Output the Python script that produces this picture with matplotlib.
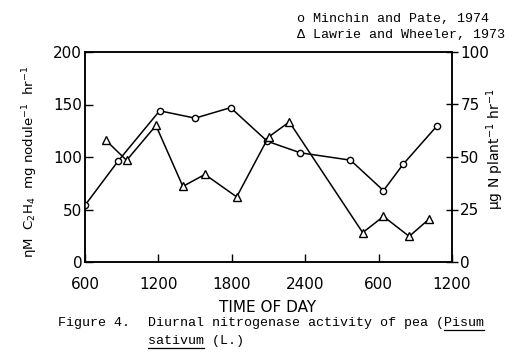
import matplotlib
matplotlib.use("Agg")
import matplotlib.pyplot as plt
from matplotlib.lines import Line2D

# Data (time in hours from 0600 on day 1)
minchin_hours = [6.0, 8.7, 12.1, 15.0, 17.9, 20.9, 23.6, 27.7, 30.4, 32.0, 34.8]
minchin_vals = [54, 96, 144, 137, 147, 115, 104, 97, 68, 93, 130]

lawrie_hours = [7.7, 9.4, 11.8, 14.0, 15.8, 18.4, 21.0, 22.7, 28.7, 30.4, 32.5, 34.1]
lawrie_vals = [58, 48.4, 65, 36, 41.7, 31, 59.5, 66.7, 14, 21.7, 12.2, 20.3]

x_ticks = [6, 12, 18, 24, 30, 36]
x_labels = ["600", "1200", "1800", "2400", "600", "1200"]
left_ticks = [0, 50, 100, 150, 200]
right_ticks = [0, 25, 50, 75, 100]

W, H = 527, 363
fig = plt.figure(figsize=(W / 100, H / 100), dpi=100)
ax = fig.add_axes([85 / W, 1 - 262 / H, (452 - 85) / W, (262 - 52) / H])
ax2 = ax.twinx()

sans = "DejaVu Sans"
mono = "Liberation Mono"
tfs = 11

ax.plot(minchin_hours, minchin_vals, color="black", lw=1.1, marker="o",
        ms=4.5, mfc="white", mec="black", mew=1.0, zorder=3)
ax2.plot(lawrie_hours, lawrie_vals, color="black", lw=1.1, marker="^",
         ms=6, mfc="white", mec="black", mew=1.0, zorder=3)

ax.set_xlim(6, 36)
ax.set_ylim(0, 200)
ax2.set_ylim(0, 100)

ax.set_xticks(x_ticks)
ax.set_xticklabels(x_labels, fontsize=tfs, family=sans)
ax.set_yticks(left_ticks)
ax.set_yticklabels([str(v) for v in left_ticks], fontsize=tfs, family=sans)
ax2.set_yticks(right_ticks)
ax2.set_yticklabels([str(v) for v in right_ticks], fontsize=tfs, family=sans)

ax.tick_params(axis="x", direction="in", length=6, width=1, pad=11)
ax.tick_params(axis="y", direction="in", length=6, width=1, pad=2)
ax2.tick_params(axis="y", direction="inout", length=8, width=1, pad=2)

for a in (ax, ax2):
    for s in a.spines.values():
        s.set_linewidth(1.1)

fig.text(268 / W, 1 - 308 / H, "TIME OF DAY", fontsize=tfs, family=sans,
         ha="center", va="center")
fig.text(30 / W, 1 - 162 / H, r"ηM  C$_2$H$_4$  mg nodule$^{-1}$  hr$^{-1}$",
         rotation=90, ha="center", va="center", fontsize=9.6, family=sans)
fig.text(495 / W, 1 - 149 / H, r"μg N plant$^{-1}$ hr$^{-1}$",
         rotation=90, ha="center", va="center", fontsize=10, family=sans)

# Legend text
fig.text(297 / W, 1 - 19 / H, "o Minchin and Pate, 1974", fontsize=9.6,
         family=mono, va="center", ha="left")
fig.text(297 / W, 1 - 35 / H, "Δ Lawrie and Wheeler, 1973", fontsize=9.6,
         family=mono, va="center", ha="left")

# Caption
fig.text(58 / W, 1 - 323 / H, "Figure 4.", fontsize=9.6, family=mono,
         va="center", ha="left")
t1 = fig.text(148 / W, 1 - 323 / H, "Diurnal nitrogenase activity of pea (Pisum",
              fontsize=9.6, family=mono, va="center", ha="left")
t2 = fig.text(148 / W, 1 - 341 / H, "sativum (L.)", fontsize=9.6, family=mono,
              va="center", ha="left")

# Underlines for "Pisum" and "sativum"
fig.canvas.draw()
r = fig.canvas.get_renderer()
bb1 = t1.get_window_extent(r)
cw1 = bb1.width / len(t1.get_text())
start = t1.get_text().index("Pisum")
x0 = bb1.x0 + cw1 * start
x1 = bb1.x0 + cw1 * (start + 5)
fig.add_artist(Line2D([x0 / W, x1 / W], [(bb1.y0 - 1) / H] * 2,
                      color="black", lw=0.9, transform=fig.transFigure))
bb2 = t2.get_window_extent(r)
cw2 = bb2.width / len(t2.get_text())
x0 = bb2.x0
x1 = bb2.x0 + cw2 * 7
fig.add_artist(Line2D([x0 / W, x1 / W], [(bb2.y0 - 1) / H] * 2,
                      color="black", lw=0.9, transform=fig.transFigure))

fig.savefig("out.png", dpi=100)
